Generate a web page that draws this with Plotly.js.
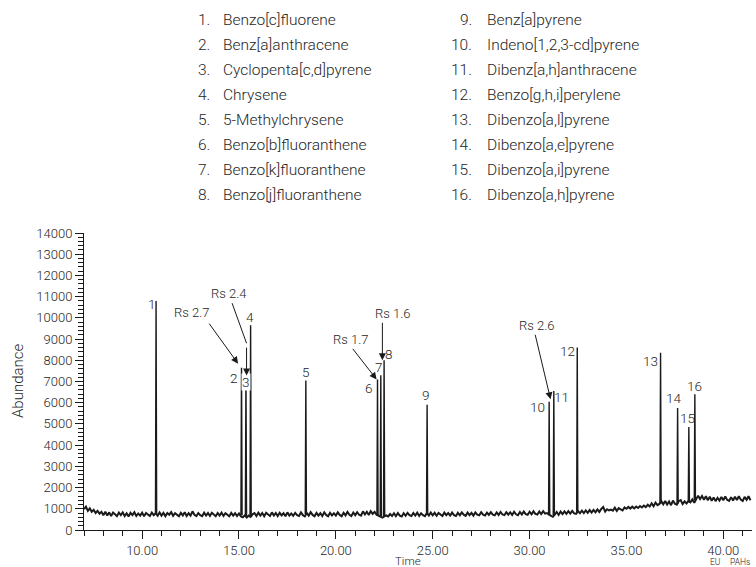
<!DOCTYPE html>
<html>
<head>
<meta charset="utf-8">
<script src="https://cdn.plot.ly/plotly-3.0.1.min.js"></script>
<style>
  html, body { margin: 0; padding: 0; background: #ffffff; }
  #chart { width: 756px; height: 567px; }
</style>
</head>
<body>
<div id="chart"></div>
<script>
// Compound list (elution order)
const compoundNames = [
  'Benzo[c]fluorene', 'Benz[a]anthracene', 'Cyclopenta[c,d]pyrene', 'Chrysene',
  '5-Methylchrysene', 'Benzo[b]fluoranthene', 'Benzo[k]fluoranthene', 'Benzo[j]fluoranthene',
  'Benz[a]pyrene', 'Indeno[1,2,3-cd]pyrene', 'Dibenz[a,h]anthracene', 'Benzo[g,h,i]perylene',
  'Dibenzo[a,l]pyrene', 'Dibenzo[a,e]pyrene', 'Dibenzo[a,i]pyrene', 'Dibenzo[a,h]pyrene'
];
const peakLabels = ['1','2','3','4','5','6','7','8','9','10','11','12','13','14','15','16'];

// Retention time (min), apex abundance and local baseline for each peak
const peakTime   = [10.72, 15.13, 15.36, 15.60, 18.45, 22.15, 22.32, 22.49, 24.71, 31.01, 31.25, 32.46, 36.76, 37.64, 38.22, 38.53];
const peakHeight = [10800, 7650, 7350, 9650, 7050, 7100, 7300, 8000, 5900, 6050, 6550, 8600, 8350, 5750, 4850, 6400];
const peakFoot   = [760, 700, 660, 680, 760, 680, 660, 650, 740, 720, 700, 850, 1250, 1240, 1330, 1400];

// Resolution callouts: text and the peak each arrow points at
const rsText = ['Rs 2.7', 'Rs 2.4', 'Rs 1.7', 'Rs 1.6', 'Rs 2.6'];
const rsPeak = [1, 2, 5, 7, 9];

// Baseline signal, one sample every 0.1 min starting at 7.0 min
const baseStart = 7.0;
const baseStep = 0.1;
const baseAbundance = [
  980, 1100, 900, 1020, 860, 950, 800, 900, 770, 860,
  700, 860, 680, 830, 660, 820, 740, 650, 820, 700,
  830, 660, 790, 640, 810, 700, 840, 660, 780, 680,
  820, 650, 800, 720, 660, 820, 700, 790, 670, 830,
  680, 810, 650, 800, 720, 840, 670, 790, 700, 650,
  810, 690, 840, 660, 790, 680, 880, 720, 660, 800,
  700, 650, 820, 680, 800, 660, 810, 710, 650, 800,
  680, 820, 660, 790, 700, 650, 810, 680, 790, 660,
  780, 640, 600, 690, 590, 680, 620, 740, 800, 660,
  820, 680, 800, 650, 810, 710, 660, 830, 680, 800,
  660, 810, 690, 790, 650, 830, 680, 780, 670, 810,
  700, 660, 830, 700, 640, 800, 680, 840, 710, 650,
  810, 680, 790, 660, 830, 710, 650, 810, 690, 790,
  680, 830, 710, 650, 810, 690, 850, 720, 660, 820,
  700, 840, 720, 680, 880, 730, 860, 710, 890, 760,
  860, 720, 660, 600, 580, 640, 690, 640, 750, 660,
  790, 650, 800, 680, 640, 790, 670, 810, 700, 660,
  800, 680, 820, 660, 790, 700, 650, 800, 680, 820,
  690, 810, 670, 800, 710, 660, 820, 700, 800, 680,
  820, 700, 660, 810, 690, 830, 720, 670, 820, 700,
  810, 680, 830, 720, 690, 840, 720, 680, 820, 710,
  840, 720, 690, 830, 710, 850, 730, 700, 840, 720,
  830, 710, 860, 740, 700, 850, 730, 870, 750, 720,
  860, 740, 880, 760, 730, 870, 750, 890, 770, 800,
  720, 660, 620, 720, 850, 710, 870, 750, 880, 760,
  890, 770, 900, 780, 760, 890, 790, 910, 800, 920,
  810, 940, 820, 950, 830, 970, 850, 990, 1080, 870,
  980, 920, 960, 910, 1050, 900, 1030, 970, 920, 1060,
  1000, 1090, 1010, 1100, 1020, 1110, 1040, 1130, 1060, 1150,
  1080, 1190, 1110, 1260, 1120, 1290, 1170, 1230, 1360, 1210,
  1370, 1200, 1340, 1170, 1390, 1240, 1190, 1360, 1410, 1220,
  1350, 1250, 1360, 1300, 1440, 1280, 1470, 1620, 1460, 1600,
  1430, 1590, 1400, 1570, 1380, 1530, 1360, 1520, 1390, 1560,
  1400, 1580, 1420, 1370, 1550, 1390, 1570, 1410, 1590, 1430,
  1370, 1560, 1420, 1590, 1400
];

// ---- layout geometry helpers (pixel -> paper) ----
const W = 756, H = 567;
const M = { l: 84, r: 4, t: 233, b: 37 };
const PW = W - M.l - M.r, PH = H - M.t - M.b;
const fx = px => (px - M.l) / PW;
const fy = py => (H - M.b - py) / PH;

const ink = '#1a1a1a';
const textInk = '#262626';
const face = 'Roboto, Liberation Sans, sans-serif';
const light = 300;

// Baseline trace: positions generated by Plotly from x0/dx
const baselineTrace = {
  type: 'scatter', mode: 'lines',
  y: baseAbundance, x0: baseStart, dx: baseStep,
  line: { color: ink, width: 2 },
  hoverinfo: 'skip', showlegend: false
};

// Peak spikes: each peak is a narrow foot-apex-foot stroke
const halfWidth = 0.03;
const px = [], py = [];
peakTime.forEach((t, i) => {
  px.push(t - halfWidth, t, t + halfWidth, null);
  py.push(peakFoot[i], peakHeight[i], peakFoot[i], null);
});
const peakTrace = {
  type: 'scatter', mode: 'lines', x: px, y: py,
  line: { color: ink, width: 1.4 },
  connectgaps: false, hoverinfo: 'skip', showlegend: false
};

// Peak number labels, offsets in pixels from the apex
const labelShift = [
  [-4, -3], [-7.7, -10], [0, -7.6], [-0.8, 8], [0, 8.7], [-8.6, -8.6], [-1.6, 7.8], [4.8, 6.3],
  [-1.2, 9.8], [-11.6, -5.6], [7.7, -5.7], [-10.2, -3.1], [-10.1, -8.1], [-4.5, 10.3], [-1.8, 8.8], [0, 8.2]
];
const annotations = [];
peakLabels.forEach((lab, i) => {
  annotations.push({
    x: peakTime[i], y: peakHeight[i], xref: 'x', yref: 'y',
    text: lab, showarrow: false,
    xshift: labelShift[i][0], yshift: labelShift[i][1],
    font: { family: face, size: 13.5, color: textInk, weight: light },
    bgcolor: i === 2 ? '#ffffff' : 'rgba(0,0,0,0)', borderpad: 0
  });
});

// Resolution callouts: [text dx, text dy, arrow tip dx, tip dy, tail ax, tail ay]
const rsGeom = [
  [-50, 55.6, -3.4, 4, -30, -41.6],
  [-16.8, 80.8, 0.6, -1.4, 0, -29.4],
  [-26.9, 39.4, -0.9, 0, -25, -32],
  [8.5, 47, -1.7, 0, 0, -39],
  [-12.6, 75.7, 1.4, 2.4, -15.7, -66]
];
rsText.forEach((txt, k) => {
  const i = rsPeak[k];
  const g = rsGeom[k];
  annotations.push({
    x: peakTime[i], y: peakHeight[i], xref: 'x', yref: 'y',
    text: txt, showarrow: false, xshift: g[0], yshift: g[1],
    font: { family: face, size: 13, color: textInk, weight: light }
  });
  annotations.push({
    x: peakTime[i], y: peakHeight[i], xref: 'x', yref: 'y',
    text: '', showarrow: true, xshift: g[2], yshift: g[3],
    ax: g[4], ay: g[5], arrowhead: 2, arrowsize: 1.4, arrowwidth: 1, arrowcolor: ink,
    standoff: 0, startstandoff: 0
  });
});
// Upper, slanted leg of the bent Rs 2.4 pointer
annotations.push({
  x: peakTime[rsPeak[1]], y: peakHeight[rsPeak[1]], xref: 'x', yref: 'y',
  text: '', showarrow: true, xshift: 0.6, yshift: 30.8,
  ax: -15, ay: -41.6, arrowhead: 0, arrowwidth: 1, arrowcolor: ink,
  standoff: 0, startstandoff: 0
});

// Compound key above the plot, two columns of eight
compoundNames.forEach((name, i) => {
  const col = i < 8 ? 0 : 1;
  const row = i % 8;
  const yy = 20 + 25 * row;
  const numRight = col === 0 ? 212 : 474;
  const nameLeft = col === 0 ? 221 : 485;
  annotations.push({
    xref: 'paper', yref: 'paper', x: fx(numRight), y: fy(yy),
    xanchor: 'right', yanchor: 'middle', text: (i + 1) + '.', showarrow: false,
    font: { family: face, size: 15.5, color: textInk, weight: light }
  });
  annotations.push({
    xref: 'paper', yref: 'paper', x: fx(nameLeft), y: fy(yy),
    xanchor: 'left', yanchor: 'middle', text: name, showarrow: false,
    font: { family: face, size: 15.5, color: textInk, weight: light }
  });
});

// Axis titles and footer tag
annotations.push({
  xref: 'paper', yref: 'paper', x: fx(18), y: fy(381), textangle: -90,
  xanchor: 'center', yanchor: 'middle', text: 'Abundance', showarrow: false,
  font: { family: face, size: 15, color: textInk, weight: light }
});
annotations.push({
  xref: 'paper', yref: 'paper', x: fx(408), y: fy(561),
  xanchor: 'center', yanchor: 'middle', text: 'Time', showarrow: false,
  font: { family: face, size: 11.5, color: textInk, weight: light }
});
annotations.push({
  xref: 'paper', yref: 'paper', x: fx(714.5), y: fy(561.5),
  xanchor: 'center', yanchor: 'middle', text: 'EU', showarrow: false,
  font: { family: face, size: 8.5, color: textInk, weight: light }
});
annotations.push({
  xref: 'paper', yref: 'paper', x: fx(740), y: fy(561.5),
  xanchor: 'center', yanchor: 'middle', text: 'PAHs', showarrow: false,
  font: { family: face, size: 8.5, color: textInk, weight: light }
});

const layout = {
  width: W, height: H,
  margin: M,
  paper_bgcolor: '#ffffff', plot_bgcolor: '#ffffff',
  showlegend: false,
  font: { family: face, color: textInk },
  xaxis: {
    range: [7, 41.48], dtick: 5, tick0: 0, tickformat: '.2f',
    ticks: 'outside', ticklen: 8, tickwidth: 1, tickcolor: ink,
    showline: true, linecolor: ink, linewidth: 1,
    showgrid: false, zeroline: false,
    tickfont: { family: face, size: 13, color: textInk, weight: light },
    minor: { dtick: 1, ticks: 'outside', ticklen: 5, tickwidth: 1, tickcolor: ink, showgrid: false }
  },
  yaxis: {
    range: [0, 14000], dtick: 1000, tick0: 0, tickformat: 'd',
    ticks: 'outside', ticklen: 8, tickwidth: 1, tickcolor: ink,
    showline: true, linecolor: ink, linewidth: 1,
    showgrid: false, zeroline: false,
    tickfont: { family: face, size: 13, color: textInk, weight: light },
    minor: { dtick: 200, ticks: 'outside', ticklen: 5, tickwidth: 1, tickcolor: ink, showgrid: false }
  },
  annotations: annotations
};

Plotly.newPlot('chart', [baselineTrace, peakTrace], layout, { staticPlot: true, displayModeBar: false });
</script>
</body>
</html>
